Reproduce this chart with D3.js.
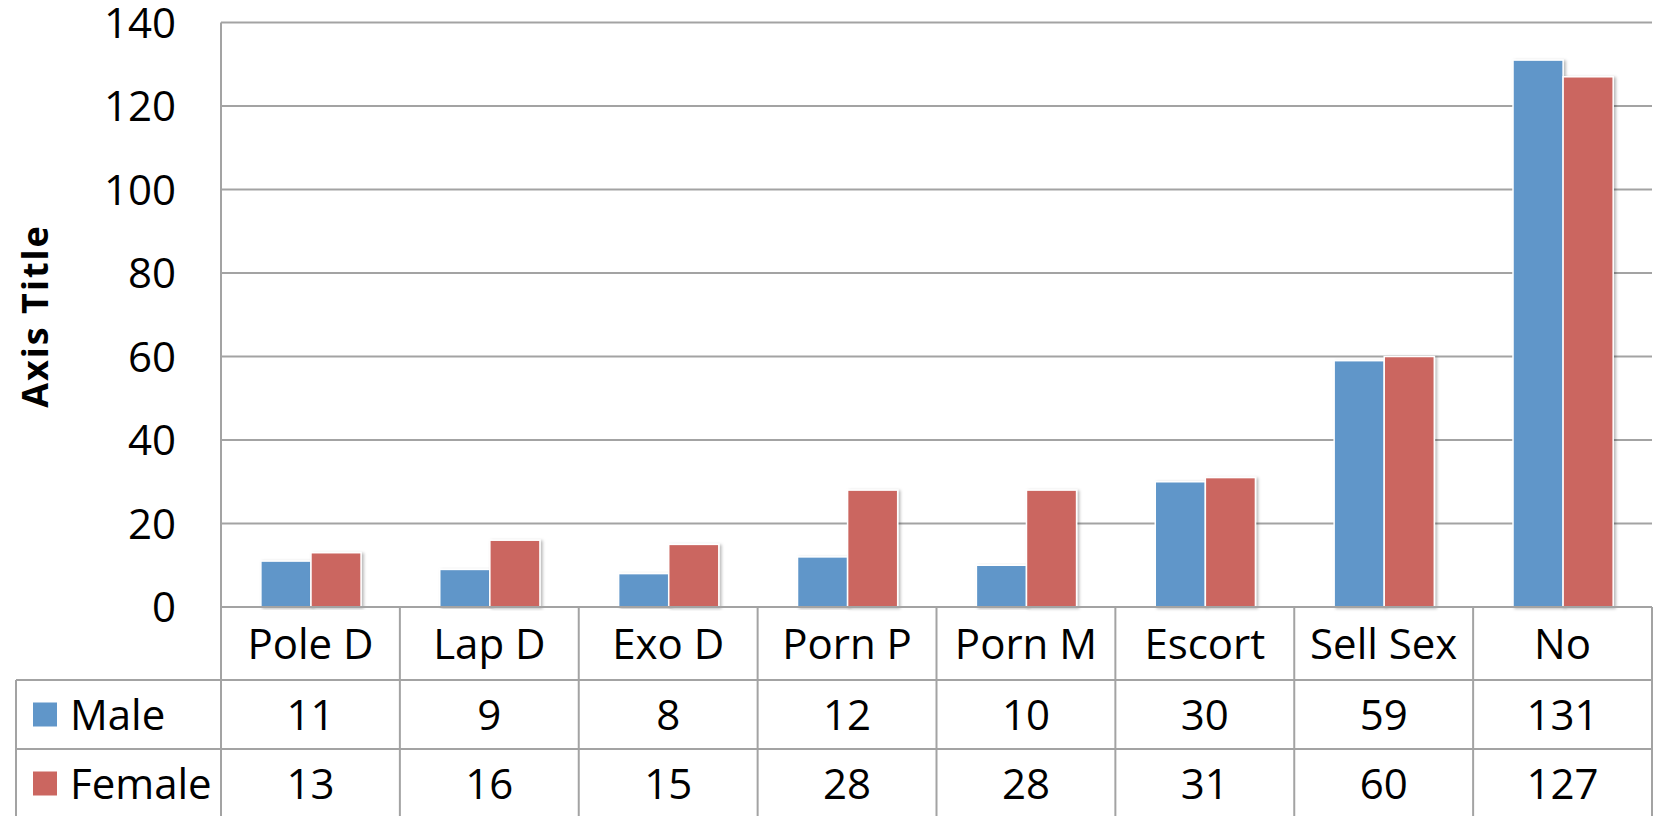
<!DOCTYPE html>
<html>
<head>
<meta charset="utf-8">
<script src="https://cdn.jsdelivr.net/npm/d3@7"></script>
<style>
  body { margin: 0; background: #fff; }
  svg { display: block; font-family: "Open Sans", sans-serif; }
</style>
</head>
<body>
<div id="chart"></div>
<script>
// data
const categories = ["Pole D", "Lap D", "Exo D", "Porn P", "Porn M", "Escort", "Sell Sex", "No"];
const seriesNames = ["Male", "Female"];
const maleValues = [11, 9, 8, 12, 10, 30, 59, 131];
const femaleValues = [13, 16, 15, 28, 28, 31, 60, 127];
const yTicks = [0, 20, 40, 60, 80, 100, 120, 140];
const colors = { Male: "#6096c9", Female: "#cb6660" };

Barchart();

function Barchart() {
  const W = 1653, H = 816;
  const plot = { left: 221, right: 1652, top: 22.5, bottom: 607 };
  const rowH = [73, 69, 69]; // category row, male row, female row
  const tableLeft = 16;
  const gridColor = "#a3a3a3";

  const svg = d3.select("#chart").append("svg")
    .attr("width", W)
    .attr("height", H);

  // soft shadow for the bars
  const defs = svg.append("defs");
  const f = defs.append("filter").attr("id", "shadow")
    .attr("x", "-20%").attr("y", "-5%").attr("width", "140%").attr("height", "110%");
  f.append("feDropShadow").attr("dx", 2).attr("dy", 1).attr("stdDeviation", 1.6)
    .attr("flood-color", "#000").attr("flood-opacity", 0.28);

  const x = d3.scaleBand().domain(categories).range([plot.left, plot.right]).padding(0);
  const bw = x.bandwidth();
  const xs = d3.scaleBand().domain(seriesNames).range([bw * 0.223, bw * 0.783]).padding(0);
  const y = d3.scaleLinear().domain([0, 140]).range([plot.bottom, plot.top]);

  // gridlines
  svg.append("g").selectAll("line").data(yTicks.filter(d => d > 0)).join("line")
    .attr("x1", plot.left).attr("x2", plot.right)
    .attr("y1", d => y(d)).attr("y2", d => y(d))
    .attr("stroke", gridColor).attr("stroke-width", 2);

  // y tick labels
  svg.append("g").selectAll("text").data(yTicks).join("text")
    .attr("x", 176).attr("y", d => y(d))
    .attr("dy", "0.36em")
    .attr("text-anchor", "end")
    .style("font-size", "42px")
    .text(d => d);

  // axis title
  svg.append("text")
    .attr("transform", "translate(48,316) rotate(-90)")
    .attr("text-anchor", "middle")
    .style("font-size", "36px")
    .style("font-weight", "bold")
    .style("letter-spacing", "2px")
    .text("Axis Title");

  // bars
  const rows = categories.map((c, i) => ({ cat: c, Male: maleValues[i], Female: femaleValues[i] }));
  const groups = svg.append("g").selectAll("g").data(rows).join("g")
    .attr("transform", d => "translate(" + x(d.cat) + ",0)");
  groups.selectAll("rect")
    .data(d => seriesNames.map(s => ({ s: s, v: d[s] })))
    .join("rect")
    .attr("x", d => xs(d.s))
    .attr("y", d => y(d.v))
    .attr("width", xs.bandwidth())
    .attr("height", d => y(0) - y(d.v))
    .attr("fill", d => colors[d.s])
    .attr("stroke", "#fff")
    .attr("stroke-width", 1.5)
    .attr("filter", "url(#shadow)");

  // data table
  const t = svg.append("g");
  const r0 = plot.bottom, r1 = r0 + rowH[0], r2 = r1 + rowH[1], r3 = r2 + rowH[2] + 5;

  // horizontal lines
  t.append("line").attr("x1", plot.left).attr("x2", plot.right).attr("y1", r0).attr("y2", r0);
  t.append("line").attr("x1", tableLeft).attr("x2", plot.right).attr("y1", r1).attr("y2", r1);
  t.append("line").attr("x1", tableLeft).attr("x2", plot.right).attr("y1", r2).attr("y2", r2);
  // verticals
  t.append("line").attr("x1", plot.left).attr("x2", plot.left).attr("y1", plot.top).attr("y2", r3);
  t.append("line").attr("x1", tableLeft).attr("x2", tableLeft).attr("y1", r1).attr("y2", r3);
  t.selectAll(".vcol").data(categories).join("line")
    .attr("class", "vcol")
    .attr("x1", d => x(d) + bw).attr("x2", d => x(d) + bw)
    .attr("y1", r0).attr("y2", r3);
  t.selectAll("line").attr("stroke", gridColor).attr("stroke-width", 2);

  // category labels
  t.selectAll(".cat").data(categories).join("text")
    .attr("class", "cat")
    .attr("x", d => x(d) + bw / 2)
    .attr("y", (r0 + r1) / 2)
    .attr("dy", "0.36em")
    .attr("text-anchor", "middle")
    .style("font-size", "42px")
    .text(d => d);

  // value rows with legend keys
  const valueRows = [
    { name: "Male", values: maleValues, yc: (r1 + r2) / 2 },
    { name: "Female", values: femaleValues, yc: (r2 + r2 + rowH[2]) / 2 }
  ];
  valueRows.forEach(row => {
    t.append("rect")
      .attr("x", 33).attr("y", row.yc - 12)
      .attr("width", 24).attr("height", 24)
      .attr("fill", colors[row.name]);
    t.append("text")
      .attr("x", 70).attr("y", row.yc)
      .attr("dy", "0.36em")
      .style("font-size", "42px")
      .text(row.name);
    t.selectAll(".v-" + row.name).data(row.values).join("text")
      .attr("class", "v-" + row.name)
      .attr("x", (d, i) => x(categories[i]) + bw / 2)
      .attr("y", row.yc)
      .attr("dy", "0.36em")
      .attr("text-anchor", "middle")
      .style("font-size", "42px")
      .text(d => d);
  });
}
</script>
</body>
</html>
